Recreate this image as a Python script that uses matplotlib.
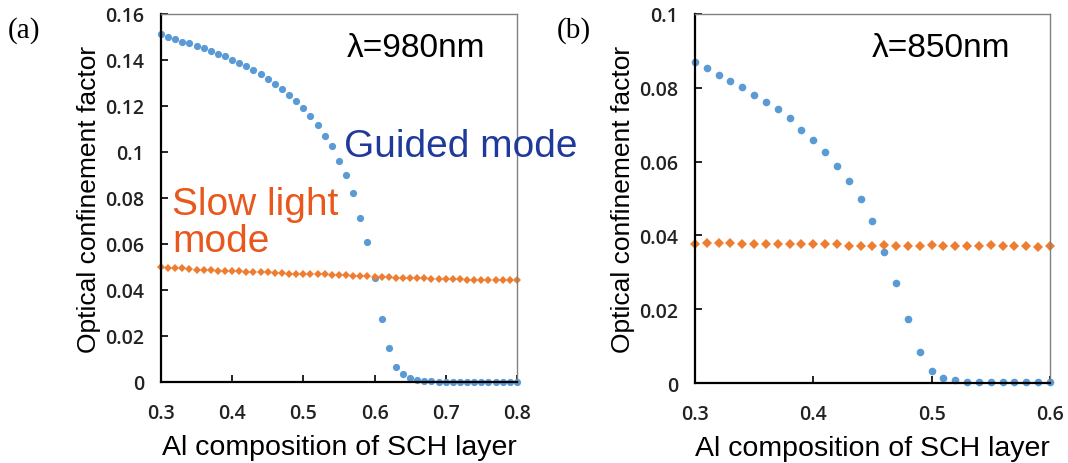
import matplotlib.pyplot as plt

# Al composition of SCH layer
x_a = [0.30, 0.31, 0.32, 0.33, 0.34, 0.35, 0.36, 0.37, 0.38, 0.39,
       0.40, 0.41, 0.42, 0.43, 0.44, 0.45, 0.46, 0.47, 0.48, 0.49,
       0.50, 0.51, 0.52, 0.53, 0.54, 0.55, 0.56, 0.57, 0.58, 0.59,
       0.60, 0.61, 0.62, 0.63, 0.64, 0.65, 0.66, 0.67, 0.68, 0.69,
       0.70, 0.71, 0.72, 0.73, 0.74, 0.75, 0.76, 0.77, 0.78, 0.79, 0.80]
guided_a = [0.1513, 0.1500, 0.1490, 0.1480, 0.1473, 0.1462, 0.1450, 0.1440, 0.1426, 0.1416,
            0.1401, 0.1387, 0.1373, 0.1357, 0.1339, 0.1317, 0.1296, 0.1274, 0.1248, 0.1220,
            0.1190, 0.1158, 0.1117, 0.1071, 0.1025, 0.0960, 0.0900, 0.0820, 0.0712, 0.0610,
            0.0452, 0.0274, 0.0147, 0.0064, 0.0035, 0.0016, 0.0009, 0.0005, 0.0003, 0.0002,
            0.0002, 0.0001, 0.0001, 0.0001, 0.0001, 0.0001, 0.0001, 0.0001, 0.0001, 0.0001, 0.0001]
slow_a = [0.0499, 0.0496, 0.0494, 0.0494, 0.0491, 0.0488, 0.0488, 0.0486, 0.0484, 0.0484,
          0.0481, 0.0481, 0.0480, 0.0478, 0.0477, 0.0477, 0.0474, 0.0473, 0.0471, 0.0471,
          0.0470, 0.0470, 0.0468, 0.0468, 0.0467, 0.0465, 0.0464, 0.0462, 0.0461, 0.0461,
          0.0458, 0.0457, 0.0455, 0.0454, 0.0454, 0.0452, 0.0451, 0.0451, 0.0449, 0.0448,
          0.0448, 0.0446, 0.0446, 0.0445, 0.0445, 0.0445, 0.0444, 0.0444, 0.0444, 0.0442, 0.0442]

x_b = [0.30, 0.31, 0.32, 0.33, 0.34, 0.35, 0.36, 0.37, 0.38, 0.39,
       0.40, 0.41, 0.42, 0.43, 0.44, 0.45, 0.46, 0.47, 0.48, 0.49,
       0.50, 0.51, 0.52, 0.53, 0.54, 0.55, 0.56, 0.57, 0.58, 0.59, 0.60]
guided_b = [0.0869, 0.0853, 0.0835, 0.0819, 0.0803, 0.0781, 0.0762, 0.0743, 0.0718, 0.0686,
            0.0658, 0.0626, 0.0589, 0.0547, 0.0498, 0.0439, 0.0356, 0.0271, 0.0173, 0.0084,
            0.0033, 0.0014, 0.0007, 0.0004, 0.0002, 0.0002, 0.0002, 0.0002, 0.0002, 0.0002, 0.0002]
slow_b = [0.0377, 0.0379, 0.0379, 0.0380, 0.0376, 0.0376, 0.0376, 0.0376, 0.0376, 0.0376,
          0.0376, 0.0376, 0.0376, 0.0372, 0.0372, 0.0372, 0.0374, 0.0372, 0.0372, 0.0372,
          0.0375, 0.0372, 0.0372, 0.0372, 0.0372, 0.0375, 0.0372, 0.0372, 0.0372, 0.0368, 0.0372]

xticks_a = [0.3, 0.4, 0.5, 0.6, 0.7, 0.8]
yticks_a = [0, 0.02, 0.04, 0.06, 0.08, 0.1, 0.12, 0.14, 0.16]
ylabels_a = ['0', '0.02', '0.04', '0.06', '0.08', '0.1', '0.12', '0.14', '0.16']
xticks_b = [0.3, 0.4, 0.5, 0.6]
yticks_b = [0, 0.02, 0.04, 0.06, 0.08, 0.1]
ylabels_b = ['0', '0.02', '0.04', '0.06', '0.08', '0.1']

blue = '#5B9BD5'
orange = '#ED7D31'
label_font = 'Liberation Sans'
tick_font = 'Open Sans'

fig = plt.figure(figsize=(10.68, 4.64), dpi=100)
ax1 = fig.add_axes([0.1507, 0.1746, 0.3333, 0.7931])
ax2 = fig.add_axes([0.6507, 0.1724, 0.3324, 0.7953])


def style(ax, xt, yt, ylab, xmax, ymax):
    ax.set_xlim(0.3, xmax)
    ax.set_ylim(0, ymax)
    ax.set_xticks(xt)
    ax.set_xticklabels([str(v) for v in xt], fontfamily=tick_font, fontsize=14, fontweight='semibold')
    ax.set_yticks(yt)
    ax.set_yticklabels(ylab, fontfamily=tick_font, fontsize=14, fontweight='semibold')
    ax.tick_params(direction='in', length=5, width=1.2, color='black', labelcolor='#222222')
    ax.tick_params(axis='y', pad=12)
    ax.tick_params(axis='x', pad=15)
    for s in ['left', 'bottom']:
        ax.spines[s].set_linewidth(1.6)
        ax.spines[s].set_color('black')
    for s in ['top', 'right']:
        ax.spines[s].set_linewidth(1.0)
        ax.spines[s].set_color('#808080')
    ax.set_xlabel('Al composition of SCH layer', fontfamily=label_font, fontsize=20.5, labelpad=8)
    ax.set_ylabel('Optical confinement factor', fontfamily=label_font, fontsize=19, labelpad=3)


ax1.plot(x_a, guided_a, 'o', color=blue, markersize=5.2, markeredgewidth=0, clip_on=False)
ax1.plot(x_a, slow_a, 'D', color=orange, markersize=4.0, markeredgewidth=0, clip_on=False)
style(ax1, xticks_a, yticks_a, ylabels_a, 0.8, 0.16)
ax1.text(0.5605, 0.1417, 'λ=980nm', fontfamily=label_font, fontsize=24, va='baseline')
ax1.text(0.5577, 0.0983, 'Guided mode', fontfamily=label_font, fontsize=28,
         color='#1F3A9A', va='baseline')
ax1.text(0.3154, 0.0730, 'Slow light', fontfamily=label_font, fontsize=28,
         color='#E8581C', va='baseline')
ax1.text(0.3154, 0.0570, 'mode', fontfamily=label_font, fontsize=28,
         color='#E8581C', va='baseline')

ax2.plot(x_b, guided_b, 'o', color=blue, markersize=5.5, markeredgewidth=0, clip_on=False)
ax2.plot(x_b, slow_b, 'D', color=orange, markersize=4.8, markeredgewidth=0, clip_on=False)
style(ax2, xticks_b, yticks_b, ylabels_b, 0.6, 0.1)
ax2.text(0.4496, 0.0886, 'λ=850nm', fontfamily=label_font, fontsize=24, va='baseline')

fig.text(8 / 1068, 0.935, '(a)', fontfamily='Liberation Serif', fontsize=21, va='center')
fig.text(557 / 1068, 0.935, '(b)', fontfamily='Liberation Serif', fontsize=21, va='center')

fig.savefig('out.png', dpi=100)
